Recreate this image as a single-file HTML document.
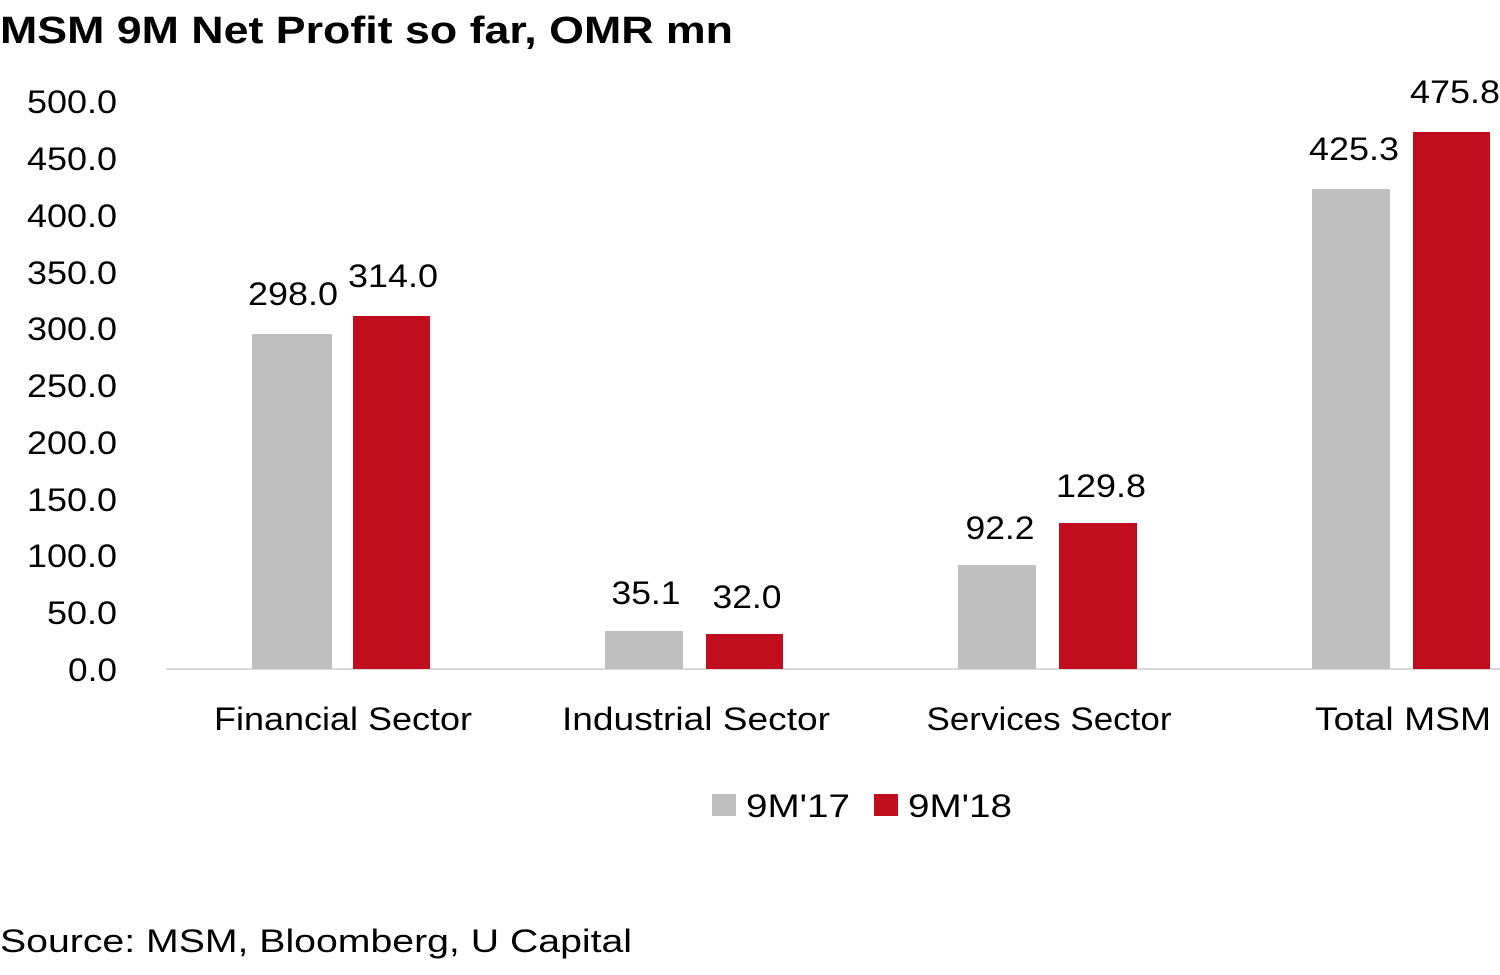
<!DOCTYPE html>
<html><head><meta charset="utf-8"><style>
html,body{margin:0;padding:0;background:#fff;}
svg{display:block;font-family:"Liberation Sans",sans-serif;}
</style></head><body>
<svg width="1500" height="975" viewBox="0 0 1500 975" xmlns="http://www.w3.org/2000/svg">
<text x="0" y="43" font-size="38" font-weight="bold" fill="#000" textLength="733" lengthAdjust="spacingAndGlyphs">MSM 9M Net Profit so far, OMR mn</text>
<g font-size="32" fill="#000" text-anchor="end">
<text x="117" y="681" textLength="49" lengthAdjust="spacingAndGlyphs">0.0</text>
<text x="117" y="624" textLength="70" lengthAdjust="spacingAndGlyphs">50.0</text>
<text x="117" y="567" textLength="90" lengthAdjust="spacingAndGlyphs">100.0</text>
<text x="117" y="511" textLength="90" lengthAdjust="spacingAndGlyphs">150.0</text>
<text x="117" y="454" textLength="90" lengthAdjust="spacingAndGlyphs">200.0</text>
<text x="117" y="397" textLength="90" lengthAdjust="spacingAndGlyphs">250.0</text>
<text x="117" y="340" textLength="90" lengthAdjust="spacingAndGlyphs">300.0</text>
<text x="117" y="284" textLength="90" lengthAdjust="spacingAndGlyphs">350.0</text>
<text x="117" y="227" textLength="90" lengthAdjust="spacingAndGlyphs">400.0</text>
<text x="117" y="170" textLength="90" lengthAdjust="spacingAndGlyphs">450.0</text>
<text x="117" y="113" textLength="90" lengthAdjust="spacingAndGlyphs">500.0</text>
</g>
<line x1="166" y1="669" x2="1500" y2="669" stroke="#d9d9d9" stroke-width="2"/>
<g fill="#bfbfc0">
<rect x="252" y="334" width="80" height="335"/>
<rect x="605" y="631" width="78" height="38"/>
<rect x="958" y="565" width="78" height="104"/>
<rect x="1312" y="189" width="78" height="480"/>
</g>
<g fill="#c00d1e">
<rect x="353" y="316" width="77" height="353"/>
<rect x="706" y="634" width="77" height="35"/>
<rect x="1059" y="523" width="78" height="146"/>
<rect x="1413" y="132" width="77" height="537"/>
</g>
<g font-size="32" fill="#000" text-anchor="middle" lengthAdjust="spacingAndGlyphs">
<text x="293" y="305" textLength="90" lengthAdjust="spacingAndGlyphs">298.0</text>
<text x="393" y="287" textLength="90" lengthAdjust="spacingAndGlyphs">314.0</text>
<text x="646" y="604" textLength="69" lengthAdjust="spacingAndGlyphs">35.1</text>
<text x="747" y="608" textLength="69" lengthAdjust="spacingAndGlyphs">32.0</text>
<text x="1000" y="539" textLength="69" lengthAdjust="spacingAndGlyphs">92.2</text>
<text x="1101" y="497" textLength="90" lengthAdjust="spacingAndGlyphs">129.8</text>
<text x="1354" y="160" textLength="90" lengthAdjust="spacingAndGlyphs">425.3</text>
<text x="1455" y="103" textLength="90" lengthAdjust="spacingAndGlyphs">475.8</text>
</g>
<g font-size="32" fill="#000" text-anchor="middle">
<text x="343" y="730" textLength="258" lengthAdjust="spacingAndGlyphs">Financial Sector</text>
<text x="696" y="730" textLength="268" lengthAdjust="spacingAndGlyphs">Industrial Sector</text>
<text x="1049" y="730" textLength="245" lengthAdjust="spacingAndGlyphs">Services Sector</text>
<text x="1403" y="730" textLength="176" lengthAdjust="spacingAndGlyphs">Total MSM</text>
</g>
<rect x="712" y="794" width="24" height="22" fill="#bfbfc0"/>
<text x="746" y="817" font-size="32" fill="#000" textLength="104" lengthAdjust="spacingAndGlyphs">9M'17</text>
<rect x="874" y="794" width="24" height="22" fill="#c00d1e"/>
<text x="908" y="817" font-size="32" fill="#000" textLength="104" lengthAdjust="spacingAndGlyphs">9M'18</text>
<text x="0" y="952" font-size="32" fill="#000" textLength="632" lengthAdjust="spacingAndGlyphs">Source: MSM, Bloomberg, U Capital</text>
</svg>
</body></html>
